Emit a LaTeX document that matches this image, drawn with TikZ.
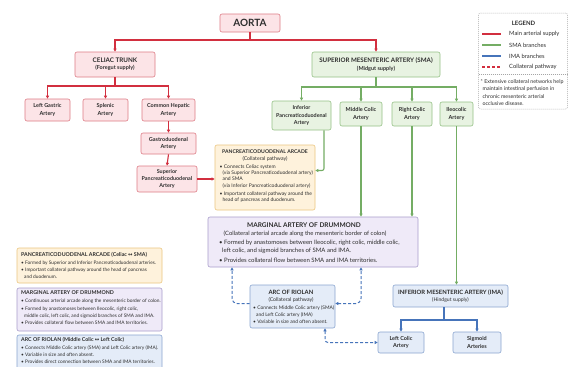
\documentclass[tikz,border=0pt]{standalone}
\usepackage{fontspec}
\setmainfont{Lato}
\newfontfamily\symf{DejaVu Sans}
\usetikzlibrary{arrows.meta}
\definecolor{redL}{HTML}{D22F3F}
\definecolor{redF}{HTML}{FCE4E7}
\definecolor{redB}{HTML}{DE7C86}
\definecolor{grnL}{HTML}{74AD64}
\definecolor{grnF}{HTML}{E8F3E2}
\definecolor{grnB}{HTML}{95C186}
\definecolor{bluL}{HTML}{4674BA}
\definecolor{bluF}{HTML}{E4ECF8}
\definecolor{bluB}{HTML}{8AA5D0}
\definecolor{yelF}{HTML}{FEF2DC}
\definecolor{yelB}{HTML}{EBC680}
\definecolor{purF}{HTML}{EFEAF8}
\definecolor{purB}{HTML}{A99CCB}
\definecolor{txt}{HTML}{2E2E2E}
\begin{document}
\begin{tikzpicture}[x=1pt,y=-1pt,
  >={Triangle[length=3pt,width=3pt]},
  every node/.style={text=txt},
  boxbase/.style={rounded corners=2pt, line width=0.6pt, align=center, inner sep=1pt,
    font=\fontsize{5.5}{7.2}\selectfont\bfseries},
  redbox/.style={boxbase, draw=redB, fill=redF},
  grnbox/.style={boxbase, draw=grnB, fill=grnF},
  blubox/.style={boxbase, draw=bluB, fill=bluF},
  yelbox/.style={boxbase, draw=yelB, fill=yelF},
  purbox/.style={boxbase, draw=purB, fill=purF},
  ttl/.style={font=\fontsize{5.9}{7}\selectfont\bfseries, inner sep=0pt},
  sub/.style={font=\fontsize{5.2}{6}\selectfont, inner sep=0pt},
  bul/.style={font=\fontsize{5.0}{6.3}\selectfont, inner sep=0pt, align=left, anchor=north west},
  redline/.style={draw=redL, line width=1.1pt},
  grnline/.style={draw=grnL, line width=1.1pt},
  bluline/.style={draw=bluL, line width=1.1pt},
  bludash/.style={draw=bluL, line width=1pt, dash pattern=on 3pt off 2pt},
]
\useasboundingbox[fill=white] (0,0) rectangle (568,367);

% ---------- main boxes ----------
\node[redbox, minimum width=60, minimum height=18, font=\fontsize{10}{11}\selectfont\bfseries] (aorta) at (250,23) {AORTA};
\node[redbox, minimum width=80, minimum height=25] (cel) at (115,64.5) {{\fontsize{6.3}{8.5}\selectfont CELIAC TRUNK}\\{\fontsize{5.5}{6}\selectfont (Foregut supply)}};
\node[redbox, minimum width=45, minimum height=22] (lg) at (47.5,110) {Left Gastric\\Artery};
\node[redbox, minimum width=45, minimum height=22] (spl) at (105.5,110) {Splenic\\Artery};
\node[redbox, minimum width=53, minimum height=22] (ch) at (168.5,110) {Common Hepatic\\Artery};
\node[redbox, minimum width=55, minimum height=21] (gd) at (168.5,143.5) {Gastroduodenal\\Artery};
\node[redbox, minimum width=60, minimum height=26, font=\fontsize{5.4}{7}\selectfont\bfseries] (spd) at (167,179) {Superior\\Pancreaticoduodenal\\Artery};

\node[grnbox, minimum width=128, minimum height=25] (sma) at (376,64.5) {{\fontsize{6.2}{8.5}\selectfont SUPERIOR MESENTERIC ARTERY (SMA)}\\{\fontsize{5.5}{6}\selectfont (Midgut supply)}};
\node[grnbox, minimum width=59, minimum height=29, font=\fontsize{5.4}{7.3}\selectfont\bfseries] (ipd) at (301.5,115.5) {Inferior\\Pancreaticoduodenal\\Artery};
\node[grnbox, minimum width=42, minimum height=24] (mc) at (361,114) {Middle Colic\\Artery};
\node[grnbox, minimum width=40, minimum height=24] (rc) at (412,114) {Right Colic\\Artery};
\node[grnbox, minimum width=33, minimum height=24] (ic) at (456.5,114) {Ileocolic\\Artery};

% Pancreaticoduodenal arcade
\node[yelbox, minimum width=100, minimum height=65] (arc) at (265,177.5) {};
\node[ttl, font=\fontsize{5.1}{6}\selectfont\bfseries] (arct) at (265,152) {PANCREATICODUODENAL ARCADE};
\node[sub] (arcs) at (265,158.5) {(Collateral pathway)};
\node[bul] (arcb) at (219.5,164.5) {• Connects Celiac system\\
\hspace*{3pt}(via Superior Pancreaticoduodenal artery)\\
\hspace*{3pt}and SMA\\
\hspace*{3pt}(via Inferior Pancreaticoduodenal artery)\\[1.5pt]
• Important collateral pathway around the\\
\hspace*{3pt}head of pancreas and duodenum.};

% Drummond
\node[purbox, minimum width=210, minimum height=50] (dr) at (313,242) {};
\node[ttl, font=\fontsize{6.5}{7}\selectfont\bfseries] (drt) at (304,225) {MARGINAL ARTERY OF DRUMMOND};
\node[sub, font=\fontsize{5.9}{6}\selectfont] (drs) at (305,234) {(Collateral arterial arcade along the mesenteric border of colon)};
\node[bul, font=\fontsize{6.0}{7.3}\selectfont] (drb) at (219,240.2) {• Formed by anastomoses between Ileocolic, right colic, middle colic,\\
\hspace*{3pt}left colic, and sigmoid branches of SMA and IMA.\\[2.8pt]
• Provides collateral flow between SMA and IMA territories.};

% Arc of Riolan
\node[blubox, minimum width=85, minimum height=43] (ri) at (292.5,306.5) {};
\node[ttl] (rit) at (291,292) {ARC OF RIOLAN};
\node[sub] (ris) at (291,300) {(Collateral pathway)};
\node[bul, font=\fontsize{4.9}{7}\selectfont] (rib) at (253,305.8) {• Connects Middle Colic artery (SMA)\\
\hspace*{3pt}and Left Colic artery (IMA)\\
• Variable in size and often absent.};

% IMA
\node[blubox, minimum width=115, minimum height=22] (ima) at (450.5,296) {{\fontsize{5.9}{7.5}\selectfont INFERIOR MESENTERIC ARTERY (IMA)}\\{\fontsize{5.1}{6}\selectfont\mdseries (Hindgut supply)}};
\node[blubox, minimum width=46, minimum height=21] (lc) at (401,342.5) {Left Colic\\Artery};
\node[blubox, minimum width=48, minimum height=21] (sg) at (477,342.5) {Sigmoid\\Arteries};

% ---------- connectors ----------
\coordinate (j1) at (250,40);
\draw[redline] (aorta.south) -- (j1);
\draw[redline,->] (j1) -| (cel.north);
\draw[redline,->] (j1) -| (sma.north);
\coordinate (j2) at (115,86);
\draw[redline] (cel.south) -- (j2);
\draw[redline,->] (j2) -| (lg.north);
\draw[redline,->] (j2) -| (spl.north);
\draw[redline,->] (j2) -| (ch.north);
\draw[redline,->] (ch.south) -- (gd.north);
\draw[redline,->] (gd.south) -- (spd.north);
\draw[redline,->] (spd.east) -- (spd.east -| arc.west);

\coordinate (j3) at (376,87);
\draw[grnline] (sma.south) -- (j3);
\draw[grnline,->] (j3) -| (ipd.north);
\draw[grnline,->] (j3) -| (mc.north);
\draw[grnline,->] (j3) -| (rc.north);
\draw[grnline,->] (j3) -| (ic.north);
\draw[grnline,->,rounded corners=2pt] ([xshift=22.5pt]ipd.south) |- ([yshift=7pt]arc.east);
\draw[grnline,->] (mc.south) -- (mc.south |- dr.north);
\draw[grnline,->] (rc.south) -- (rc.south |- dr.north);
\draw[grnline,->] (ic.south) -- (ic.south |- ima.north);

\draw[bludash,->,rounded corners=5pt] ([yshift=3pt]ri.west) -| ([xshift=-81pt]dr.south);
\draw[bludash,<->,rounded corners=5pt] ([yshift=3pt]ri.east) -| ([xshift=48pt]dr.south);
\draw[bludash,<->,rounded corners=3pt] ([xshift=32.5pt]ri.south) |- (lc.west);

\coordinate (j4) at (444,320);
\draw[bluline] ([xshift=-6.5pt]ima.south) -- (j4);
\draw[bluline,->] (j4) -| (lc.north);
\draw[bluline,->] (j4) -| (sg.north);

% ---------- legend ----------
\node[draw=gray!70, dash pattern=on 1pt off 1pt, line width=0.5pt, rounded corners=2pt, fill=white,
  minimum width=89, minimum height=96, inner sep=0pt] (leg) at (523,61) {};
\node[ttl, font=\fontsize{6}{7}\selectfont\bfseries] (legt) at (523.5,23) {LEGEND};
\coordinate (l1a) at (482,34); \coordinate (l1b) at (501,34);
\coordinate (l2a) at (482,45); \coordinate (l2b) at (501,45);
\coordinate (l3a) at (482,56); \coordinate (l3b) at (501,56);
\coordinate (l4a) at (482,67); \coordinate (l4b) at (501,67);
\draw[redline] (l1a) -- (l1b);
\draw[grnline] (l2a) -- (l2b);
\draw[bluline] (l3a) -- (l3b);
\draw[redline, dash pattern=on 3pt off 2pt] (l4a) -- (l4b);
\node[sub, anchor=west, font=\fontsize{5.8}{6}\selectfont] (lt1) at (509,34) {Main arterial supply};
\node[sub, anchor=west, font=\fontsize{5.8}{6}\selectfont] (lt2) at (509,45) {SMA branches};
\node[sub, anchor=west, font=\fontsize{5.8}{6}\selectfont] (lt3) at (509,56) {IMA branches};
\node[sub, anchor=west, font=\fontsize{5.8}{6}\selectfont] (lt4) at (509,67) {Collateral pathway};
\coordinate (sepa) at (478.5,74); \coordinate (sepb) at (567.5,74);
\draw[gray!70, dash pattern=on 1pt off 1pt, line width=0.5pt] (sepa) -- (sepb);
\node[bul, font=\fontsize{5.3}{7.3}\selectfont] (legn) at (480.5,79.5) {* Extensive collateral networks help\\
\hspace*{2pt}maintain intestinal perfusion in\\
\hspace*{2pt}chronic mesenteric arterial\\
\hspace*{2pt}occlusive disease.};

% ---------- bottom-left notes ----------
\node[yelbox, minimum width=145, minimum height=35] (n1) at (89.5,265.5) {};
\node[bul, font=\fontsize{5.3}{6}\selectfont\bfseries] (n1t) at (21,252.3) {PANCREATICODUODENAL ARCADE (Celiac {\symf ↔} SMA)};
\node[bul, font=\fontsize{4.8}{7}\selectfont] (n1b) at (21,260.5) {• Formed by Superior and Inferior Pancreaticoduodenal arteries.\\
• Important collateral pathway around the head of pancreas\\
\hspace*{3pt}and duodenum.};

\node[purbox, minimum width=145, minimum height=43] (n2) at (89.5,309.5) {};
\node[bul, font=\fontsize{5.3}{6}\selectfont\bfseries] (n2t) at (21,290.3) {MARGINAL ARTERY OF DRUMMOND};
\node[bul, font=\fontsize{4.8}{7.3}\selectfont] (n2b) at (21,299) {• Continuous arterial arcade along the mesenteric border of colon.\\
• Formed by anastomoses between Ileocolic, right colic,\\
\hspace*{3pt}middle colic, left colic, and sigmoid branches of SMA and IMA.\\
• Provides collateral flow between SMA and IMA territories.};

\node[blubox, minimum width=145, minimum height=40] (n3) at (89.5,355) {};
\node[bul, font=\fontsize{5.3}{6}\selectfont\bfseries] (n3t) at (21,337.3) {ARC OF RIOLAN (Middle Colic {\symf ↔} Left Colic)};
\node[bul, font=\fontsize{4.8}{7}\selectfont] (n3b) at (21,345.5) {• Connects Middle Colic artery (SMA) and Left Colic artery (IMA).\\
• Variable in size and often absent.\\
• Provides direct connection between SMA and IMA territories.};
\end{tikzpicture}
\end{document}
